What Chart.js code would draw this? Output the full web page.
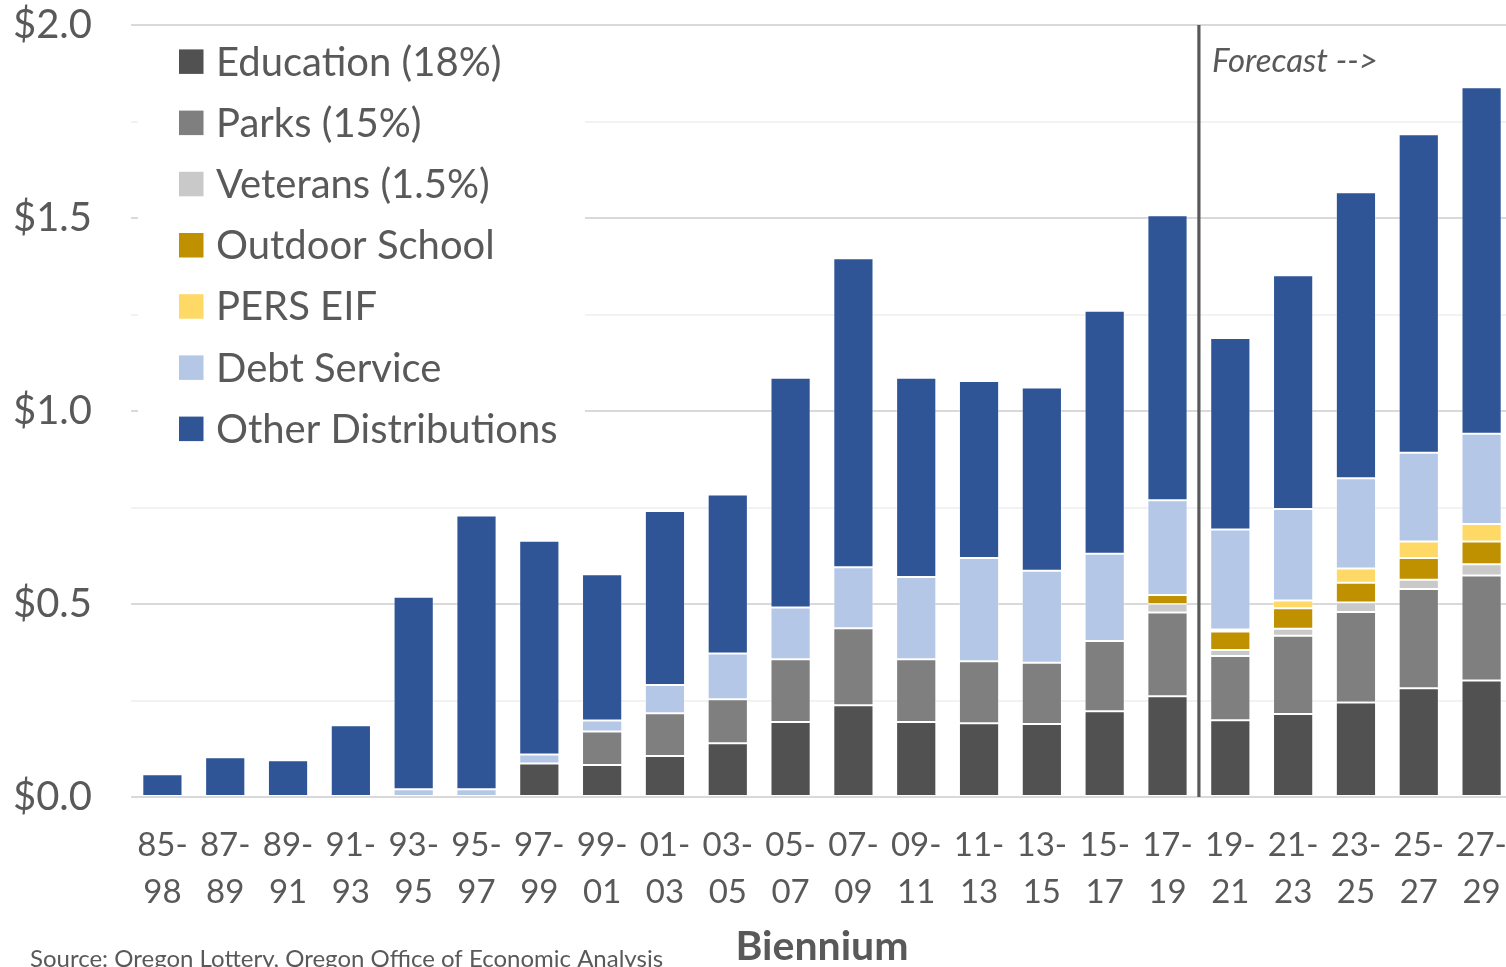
<!DOCTYPE html>
<html>
<head>
<meta charset="utf-8">
<script src="https://cdn.jsdelivr.net/npm/chart.js@4/dist/chart.umd.min.js"></script>
<style>
    html, body { margin: 0; padding: 0; background: #ffffff; overflow: hidden; }
    #chartLottery { display: block; }
</style>
</head>
<body>
<canvas id="chartLottery" width="1516" height="967"></canvas>
<script>
// biennium labels (two lines each)
const periodStart = ['85-', '87-', '89-', '91-', '93-', '95-', '97-', '99-', '01-', '03-', '05-',
    '07-', '09-', '11-', '13-', '15-', '17-', '19-', '21-', '23-', '25-', '27-'];
const periodEnd = ['98', '89', '91', '93', '95', '97', '99', '01', '03', '05', '07',
    '09', '11', '13', '15', '17', '19', '21', '23', '25', '27', '29'];

// $ billions, bottom of the stack first
const education = [0, 0, 0, 0, 0, 0, 0.087, 0.083, 0.106, 0.139, 0.194,
    0.238, 0.194, 0.191, 0.189, 0.222, 0.261, 0.199, 0.215, 0.245, 0.282, 0.302];
const parks = [0, 0, 0, 0, 0, 0, 0, 0.087, 0.111, 0.114, 0.163,
    0.199, 0.163, 0.161, 0.159, 0.182, 0.217, 0.166, 0.203, 0.234, 0.257, 0.272];
const veterans = [0, 0, 0, 0, 0, 0, 0, 0, 0, 0, 0,
    0, 0, 0, 0, 0, 0.022, 0.016, 0.018, 0.025, 0.024, 0.029];
const outdoorSchool = [0, 0, 0, 0, 0, 0, 0, 0, 0, 0, 0,
    0, 0, 0, 0, 0, 0.023, 0.048, 0.053, 0.051, 0.056, 0.059];
const persEif = [0, 0, 0, 0, 0, 0, 0, 0, 0, 0, 0,
    0, 0, 0, 0, 0, 0, 0.005, 0.020, 0.037, 0.043, 0.045];
const debtService = [0, 0, 0, 0, 0.020, 0.020, 0.023, 0.028, 0.073, 0.119, 0.134,
    0.158, 0.213, 0.267, 0.238, 0.226, 0.246, 0.259, 0.237, 0.234, 0.230, 0.234];
const otherDistributions = [0.059, 0.103, 0.095, 0.186, 0.499, 0.709, 0.554, 0.379, 0.451, 0.412, 0.595,
    0.801, 0.516, 0.459, 0.475, 0.630, 0.738, 0.496, 0.606, 0.741, 0.825, 0.898];

const lastActualIndex = 16; // 17-19, forecast starts after it

(function() {
    const textColor = '#595959';
    const fontFamily = 'Lato, "Open Sans", sans-serif';

    function makeSet(label, data, color) {
        return {
            type: 'bar',
            label: label,
            data: data,
            backgroundColor: color,
            borderColor: 'rgba(255,255,255,0.35)',
            borderWidth: 1,
            borderSkipped: false,
            barPercentage: 0.64,
            categoryPercentage: 1
        };
    }

    const datasets = [
        makeSet('Education (18%)', education, '#515151'),
        makeSet('Parks (15%)', parks, '#7f7f7f'),
        makeSet('Veterans (1.5%)', veterans, '#c9c9c9'),
        makeSet('Outdoor School', outdoorSchool, '#bf9000'),
        makeSet('PERS EIF', persEif, '#ffd966'),
        makeSet('Debt Service', debtService, '#b4c7e7'),
        makeSet('Other Distributions', otherDistributions, '#2f5597')
    ];

    // legend sits on a white box inside the plot, over the gridlines
    const insideLegend = {
        id: 'insideLegend',
        beforeDatasetsDraw(chart) {
            const ctx = chart.ctx;
            ctx.save();
            ctx.fillStyle = '#ffffff';
            ctx.fillRect(138, 36, 447, 424);
            ctx.font = '40px ' + fontFamily;
            ctx.textBaseline = 'middle';
            chart.data.datasets.forEach(function(ds, i) {
                const yMid = 61.7 + i * 61.2;
                ctx.fillStyle = ds.backgroundColor;
                ctx.fillRect(179, yMid - 12.3, 24.5, 24.5);
                ctx.fillStyle = textColor;
                ctx.fillText(ds.label, 216, yMid + 1);
            });
            ctx.restore();
        }
    };

    const forecastMarker = {
        id: 'forecastMarker',
        afterDatasetsDraw(chart) {
            const ctx = chart.ctx;
            const xScale = chart.scales.x;
            const area = chart.chartArea;
            const x = (xScale.getPixelForValue(lastActualIndex) + xScale.getPixelForValue(lastActualIndex + 1)) / 2;
            ctx.save();
            ctx.strokeStyle = '#595959';
            ctx.lineWidth = 3.2;
            ctx.beginPath();
            ctx.moveTo(x, area.top);
            ctx.lineTo(x, area.bottom);
            ctx.stroke();
            ctx.fillStyle = textColor;
            ctx.font = 'italic 33px ' + fontFamily;
            ctx.textBaseline = 'middle';
            ctx.fillText('Forecast -->', x + 13, 61);
            ctx.restore();
        }
    };

    const sourceNote = {
        id: 'sourceNote',
        afterDraw(chart) {
            const ctx = chart.ctx;
            ctx.save();
            ctx.fillStyle = textColor;
            ctx.font = '24px ' + fontFamily;
            ctx.textBaseline = 'alphabetic';
            ctx.fillText('Source: Oregon Lottery, Oregon Office of Economic Analysis', 30, 967);
            ctx.restore();
        }
    };

    const labels = periodStart.map(function(start, i) {
        return [start, periodEnd[i]];
    });

    window.lotteryChart = new Chart('chartLottery', {
        data: {
            labels: labels,
            datasets: datasets
        },
        options: {
            responsive: false,
            animation: false,
            devicePixelRatio: 1,
            layout: {
                padding: { left: 12, right: 3, top: 25, bottom: 0 }
            },
            plugins: {
                legend: { display: false },
                tooltip: { enabled: false }
            },
            scales: {
                x: {
                    stacked: true,
                    grid: { display: false, drawTicks: false },
                    border: { display: false },
                    ticks: {
                        color: textColor,
                        padding: 25,
                        maxRotation: 0,
                        autoSkip: false,
                        font: { family: fontFamily, size: 33, lineHeight: 1.42 }
                    },
                    title: {
                        display: true,
                        text: 'Biennium',
                        color: textColor,
                        padding: { top: 0, bottom: 0 },
                        font: { family: fontFamily, size: 41, weight: 'bold', lineHeight: 1.0 }
                    },
                    afterFit: function(scale) {
                        scale.height = 170;
                        scale.paddingLeft = 0;
                        scale.paddingRight = 0;
                    }
                },
                y: {
                    stacked: true,
                    min: 0,
                    max: 2,
                    border: { display: false },
                    grid: {
                        drawTicks: false,
                        lineWidth: 2,
                        color: function(c) {
                            return c.tick && c.tick.value % 0.5 === 0 ? '#d9d9d9' : '#f2f2f2';
                        }
                    },
                    ticks: {
                        stepSize: 0.25,
                        color: textColor,
                        padding: 39,
                        font: { family: fontFamily, size: 40 },
                        callback: function(value) {
                            return value % 0.5 === 0 ? '$' + value.toFixed(1) : '';
                        }
                    },
                    afterFit: function(scale) {
                        scale.width = 119;
                        scale.paddingTop = 0;
                        scale.paddingBottom = 0;
                    }
                }
            }
        },
        plugins: [insideLegend, forecastMarker, sourceNote]
    });
})();
</script>
</body>
</html>
